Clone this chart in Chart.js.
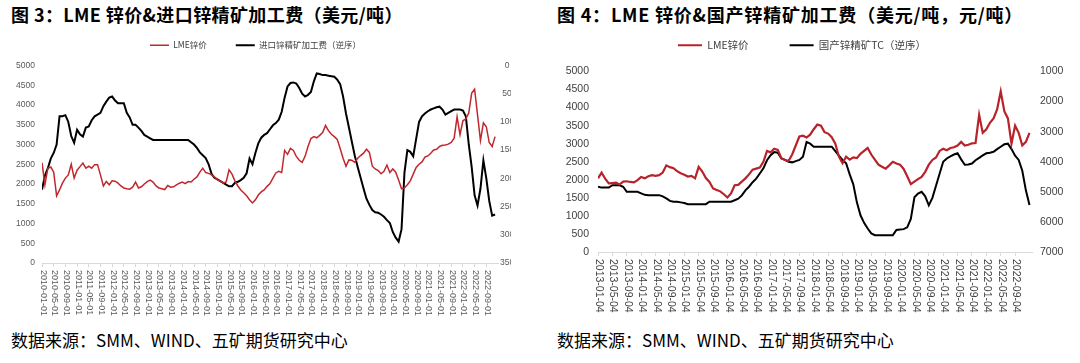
<!DOCTYPE html>
<html>
<head>
<meta charset="utf-8">
<script src="https://cdn.jsdelivr.net/npm/chart.js@4.4.0/dist/chart.umd.min.js"></script>
<style>
    body { margin: 0; width: 1080px; height: 363px; background: #fff; position: relative; overflow: hidden; font-family: "Noto Sans CJK SC", sans-serif; }
    .title { position: absolute; top: 1px; font-size: 18px; font-weight: bold; color: #000; white-space: nowrap; line-height: 26px; letter-spacing: 0.4px; }
    .src { position: absolute; top: 327px; font-size: 17px; color: #000; white-space: nowrap; line-height: 26px; }
    .box { position: absolute; width: 540px; }
</style>
</head>
<body>
<div class="title" style="left:11px">图 3：LME 锌价&amp;进口锌精矿加工费（美元/吨）</div>
<div class="title" style="left:557px;letter-spacing:0.8px">图 4：LME 锌价&amp;国产锌精矿加工费（美元/吨，元/吨）</div>
<div class="box" style="left:0;top:12px;height:315px"><canvas id="chartL"></canvas></div>
<div class="box" style="left:540px;top:-1px;height:316px"><canvas id="chartR"></canvas></div>
<div class="src" style="left:11px">数据来源：SMM、WIND、五矿期货研究中心</div>
<div class="src" style="left:557px">数据来源：SMM、WIND、五矿期货研究中心</div>

<script>
// left chart: monthly, index 0 = 2010-01
const lmeL = [
    2540, 1980, 2400, 2430, 2300, 1700, 1850, 2020, 2150, 2230, 2500, 2150,
    2350, 2440, 2530, 2400, 2450, 2400, 2490, 2490, 2230, 1950, 2065, 1980,
    2080, 2070, 2020, 1950, 1900, 1880, 1870, 1920, 2050, 1900, 1930, 2000,
    2060, 2100, 2050, 1950, 1900, 1880, 1860, 1960, 1920, 1930, 1980, 2020,
    2050, 2010, 2060, 2050, 2120, 2180, 2300, 2400, 2290, 2270, 2230, 2180,
    2110, 2070, 2020, 2050, 2360, 2250, 2080, 1950, 1850, 1780, 1700, 1600,
    1520, 1600, 1720, 1800, 1850, 1940, 2010, 2150, 2280, 2320, 2290, 2850,
    2750, 2900, 2850, 2700, 2600, 2550, 2700, 2950, 3150, 3200, 3170, 3230,
    3300, 3480, 3350, 3260, 3200, 3130, 2900, 2650, 2450, 2610, 2600, 2550,
    2650, 2720, 2780, 2880, 2800, 2450, 2380, 2340, 2260, 2320, 2480, 2290,
    2380, 2300, 2100, 1880, 1900, 1980, 2080, 2250, 2420, 2500, 2560, 2680,
    2710, 2780, 2860, 2880, 2950, 2980, 2990, 3010, 3050, 3160, 3700, 3250,
    3600, 3650, 3800, 4300, 4400, 3750, 3100, 3550, 3450, 3050, 2950, 3200
];
const tcL = [
    220, 195, 182, 165, 155, 140, 90, 90, 88, 100, 125, 137,
    114, 122, 126, 110, 108, 97, 90, 87, 84, 72, 64, 57,
    55, 62, 67, 67, 67, 84, 92, 105, 105, 110, 116, 123,
    126, 129, 132, 132, 132, 132, 132, 132, 132, 132, 132, 132,
    132, 132, 132, 136, 140, 146, 154, 159, 164, 175, 192, 199,
    202, 205, 208, 211, 214, 214, 208, 206, 203, 199, 191, 165,
    175, 155, 138, 128, 123, 120, 113, 106, 102, 96, 82, 57,
    37, 31, 30, 32, 40, 50, 55, 52, 47, 28, 14, 15,
    17, 17, 18, 19, 20, 25, 33, 55, 85, 110, 135, 160,
    180, 199, 218, 236, 247, 256, 260, 261, 264, 268, 274, 279,
    295, 305, 312, 290, 190, 150, 153, 161, 130, 100, 90, 85,
    81, 78, 76, 74, 73, 78, 87, 84, 81, 78, 78, 78,
    80, 90, 140, 180, 230, 248, 218, 168, 200, 240, 266, 264
];
const xTicksL = [
    '2010-01-01', '2010-05-01', '2010-09-01', '2011-01-01', '2011-05-01', '2011-09-01',
    '2012-01-01', '2012-05-01', '2012-09-01', '2013-01-01', '2013-05-01', '2013-09-01',
    '2014-01-01', '2014-05-01', '2014-09-01', '2015-01-01', '2015-05-01', '2015-09-01',
    '2016-01-01', '2016-05-01', '2016-09-01', '2017-01-01', '2017-05-01', '2017-09-01',
    '2018-01-01', '2018-05-01', '2018-09-01', '2019-01-01', '2019-05-01', '2019-09-01',
    '2020-01-01', '2020-05-01', '2020-09-01', '2021-01-01', '2021-05-01', '2021-09-01',
    '2022-01-01', '2022-05-01', '2022-09-01'
];

// right chart: monthly, index 0 = 2013-01
const lmeR = [
    2040, 2200, 2030, 1900, 1910, 1920, 1870, 1950, 1960, 1940, 1930, 1990,
    2080, 2040, 2100, 2130, 2110, 2130, 2200, 2400, 2350, 2320, 2240, 2180,
    2140, 2090, 2110, 2040, 2360, 2230, 2050, 1940, 1760, 1720, 1680, 1600,
    1510, 1620, 1850, 1860, 1950, 2040, 2150, 2280, 2310, 2340, 2500, 2800,
    2760, 2860, 2830, 2600, 2550, 2520, 2700, 2950, 3200, 3220, 3170, 3250,
    3400, 3530, 3500, 3320, 3280, 3180, 3000, 2640, 2460, 2640, 2560, 2620,
    2600, 2720, 2800, 2880, 2700, 2560, 2420, 2360, 2310, 2400, 2500, 2450,
    2420, 2300, 2100, 1880, 1950, 2020, 2080, 2220, 2420, 2550, 2620, 2800,
    2860, 2820, 2880, 2900, 2950, 3050, 2950, 2970, 3010, 3020, 3800, 3300,
    3400, 3580, 3700, 3950, 4450, 3900, 3700, 3000, 3500, 3300, 2950, 3050,
    3300
];
const tcR = [
    4830, 4860, 4860, 4860, 4780, 4780, 4780, 4830, 5000, 5000, 5000, 5000,
    5050, 5100, 5110, 5110, 5110, 5110, 5150, 5220, 5300, 5330, 5330, 5350,
    5370, 5410, 5410, 5410, 5410, 5410, 5410, 5330, 5330, 5330, 5330, 5330,
    5330, 5330, 5280, 5230, 5120, 4950, 4830, 4680, 4560, 4390, 4220, 3950,
    3780, 3680, 3700, 3890, 3940, 4000, 4020, 3980, 3940, 3830, 3340, 3400,
    3500, 3500, 3500, 3500, 3500, 3500, 3650, 3800, 3940, 4050, 4420, 4750,
    5350, 5780, 6030, 6220, 6380, 6440, 6440, 6440, 6440, 6440, 6440, 6270,
    6250, 6240, 6180, 5900, 5180, 5060, 5000, 5150, 5450, 5200, 4800, 4400,
    4000, 3890, 3820, 3760, 3720, 3920, 4100, 4090, 4060, 3950, 3870, 3790,
    3720, 3700, 3670, 3580, 3500, 3420, 3400, 3580, 3800, 3940, 4300, 4950,
    5440
];
const xTicksR = [
    '2013-01-04', '2013-05-04', '2013-09-04', '2014-01-04', '2014-05-04', '2014-09-04',
    '2015-01-04', '2015-05-04', '2015-09-04', '2016-01-04', '2016-05-04', '2016-09-04',
    '2017-01-04', '2017-05-04', '2017-09-04', '2018-01-04', '2018-05-04', '2018-09-04',
    '2019-01-04', '2019-05-04', '2019-09-04', '2020-01-04', '2020-05-04', '2020-09-04',
    '2021-01-04', '2021-05-04', '2021-09-04', '2022-01-04', '2022-05-04', '2022-09-04'
];

const toXY = arr => arr.map((v, i) => ({ x: i, y: v }));

// extra room under the legend
const legendGap = {
    id: 'legendGap',
    beforeInit(chart) {
        const fitValue = chart.legend.fit;
        chart.legend.fit = function fit() {
            fitValue.bind(chart.legend)();
            this.height += chart.options.plugins.legendGap.px;
        };
    }
};

// date labels read top to bottom, like the original
const vLabels = {
    id: 'vLabels',
    afterDraw(chart, args, opts) {
        const xs = chart.scales.x;
        const ctx = chart.ctx;
        ctx.save();
        ctx.font = opts.font;
        ctx.fillStyle = opts.color;
        ctx.textAlign = 'left';
        ctx.textBaseline = 'middle';
        opts.labels.forEach((lab, i) => {
            const px = xs.getPixelForValue(i * 4);
            ctx.save();
            ctx.translate(px + 1, xs.top + opts.offset);
            ctx.rotate(Math.PI / 2);
            ctx.fillText(lab, 0, 0);
            ctx.restore();
        });
        ctx.restore();
    }
};

const tickFont = size => ({ family: '"Liberation Sans", Arial, sans-serif', size: size });
const plain = v => String(v);

new Chart(document.getElementById('chartL'), {
    type: 'line',
    data: {
        datasets: [{
            label: 'LME锌价',
            data: toXY(lmeL),
            borderColor: '#C0282E',
            borderWidth: 1.5,
            yAxisID: 'y'
        }, {
            label: '进口锌精矿加工费（逆序）',
            data: toXY(tcL),
            borderColor: '#000000',
            borderWidth: 2,
            yAxisID: 'y1'
        }]
    },
    options: {
        responsive: true,
        maintainAspectRatio: false,
        animation: false,
        layout: { padding: { left: 0, right: 29, top: 0, bottom: 0 } },
        elements: { point: { radius: 0 }, line: { tension: 0 } },
        plugins: {
            tooltip: { enabled: false },
            legendGap: { px: 6 },
            legend: {
                position: 'top',
                labels: {
                    usePointStyle: true,
                    pointStyle: 'line',
                    pointStyleWidth: 19,
                    padding: 29,
                    color: '#404040',
                    font: { family: '"Noto Sans CJK SC", sans-serif', size: 8.5 }
                }
            },
            vLabels: { labels: xTicksL, font: '9px "Liberation Sans", Arial, sans-serif', color: '#595959', offset: 7 }
        },
        scales: {
            x: {
                type: 'linear',
                min: 0,
                max: 156,
                afterBuildTicks: s => { s.ticks = xTicksL.map((t, i) => ({ value: i * 4 })); },
                afterFit: s => { s.height = 64; },
                ticks: { display: false },
                grid: { drawOnChartArea: false, tickLength: 4, color: '#d9d9d9' },
                border: { color: '#d9d9d9' }
            },
            y: {
                position: 'left',
                min: 0,
                max: 5000,
                afterFit: s => { s.width = 42; },
                ticks: { stepSize: 500, color: '#595959', font: tickFont(8.5), padding: 7, callback: plain },
                grid: { display: false, drawTicks: false },
                border: { display: false }
            },
            y1: {
                position: 'right',
                reverse: true,
                min: 0,
                max: 350,
                afterFit: s => { s.width = 13; },
                ticks: { stepSize: 50, color: '#595959', font: tickFont(8.5), padding: 2, crossAlign: 'center', callback: plain },
                grid: { display: false, drawTicks: false },
                border: { display: false }
            }
        }
    },
    plugins: [legendGap, vLabels]
});

new Chart(document.getElementById('chartR'), {
    type: 'line',
    data: {
        datasets: [{
            label: 'LME锌价',
            data: toXY(lmeR),
            borderColor: '#B8232B',
            borderWidth: 2.2,
            yAxisID: 'y'
        }, {
            label: '国产锌精矿TC（逆序）',
            data: toXY(tcR),
            borderColor: '#000000',
            borderWidth: 2,
            yAxisID: 'y1'
        }]
    },
    options: {
        responsive: true,
        maintainAspectRatio: false,
        animation: false,
        layout: { padding: { left: 0, right: 16, top: 0, bottom: 0 } },
        elements: { point: { radius: 0 }, line: { tension: 0 } },
        plugins: {
            tooltip: { enabled: false },
            legendGap: { px: 11 },
            legend: {
                position: 'top',
                labels: {
                    usePointStyle: true,
                    pointStyle: 'line',
                    pointStyleWidth: 24,
                    padding: 41,
                    color: '#404040',
                    font: { family: '"Noto Sans CJK SC", sans-serif', size: 10.5 }
                }
            },
            vLabels: { labels: xTicksR, font: '10.5px "Liberation Sans", Arial, sans-serif', color: '#404040', offset: 7 }
        },
        scales: {
            x: {
                type: 'linear',
                min: 0,
                max: 120.7,
                afterBuildTicks: s => { s.ticks = xTicksR.map((t, i) => ({ value: i * 4 })); },
                afterFit: s => { s.height = 63; },
                ticks: { display: false },
                grid: { drawOnChartArea: false, tickLength: 4, color: '#d9d9d9' },
                border: { color: '#d9d9d9' }
            },
            y: {
                position: 'left',
                min: 0,
                max: 5000,
                afterFit: s => { s.width = 58; },
                ticks: { stepSize: 500, color: '#404040', font: tickFont(10.5), padding: 9, callback: plain },
                grid: { display: false, drawTicks: false },
                border: { display: false }
            },
            y1: {
                position: 'right',
                reverse: true,
                min: 1000,
                max: 7000,
                afterFit: s => { s.width = 32; },
                ticks: { stepSize: 1000, color: '#404040', font: tickFont(10.5), padding: 8, callback: plain },
                grid: { display: false, drawTicks: false },
                border: { display: false }
            }
        }
    },
    plugins: [legendGap, vLabels]
});
</script>
</body>
</html>
